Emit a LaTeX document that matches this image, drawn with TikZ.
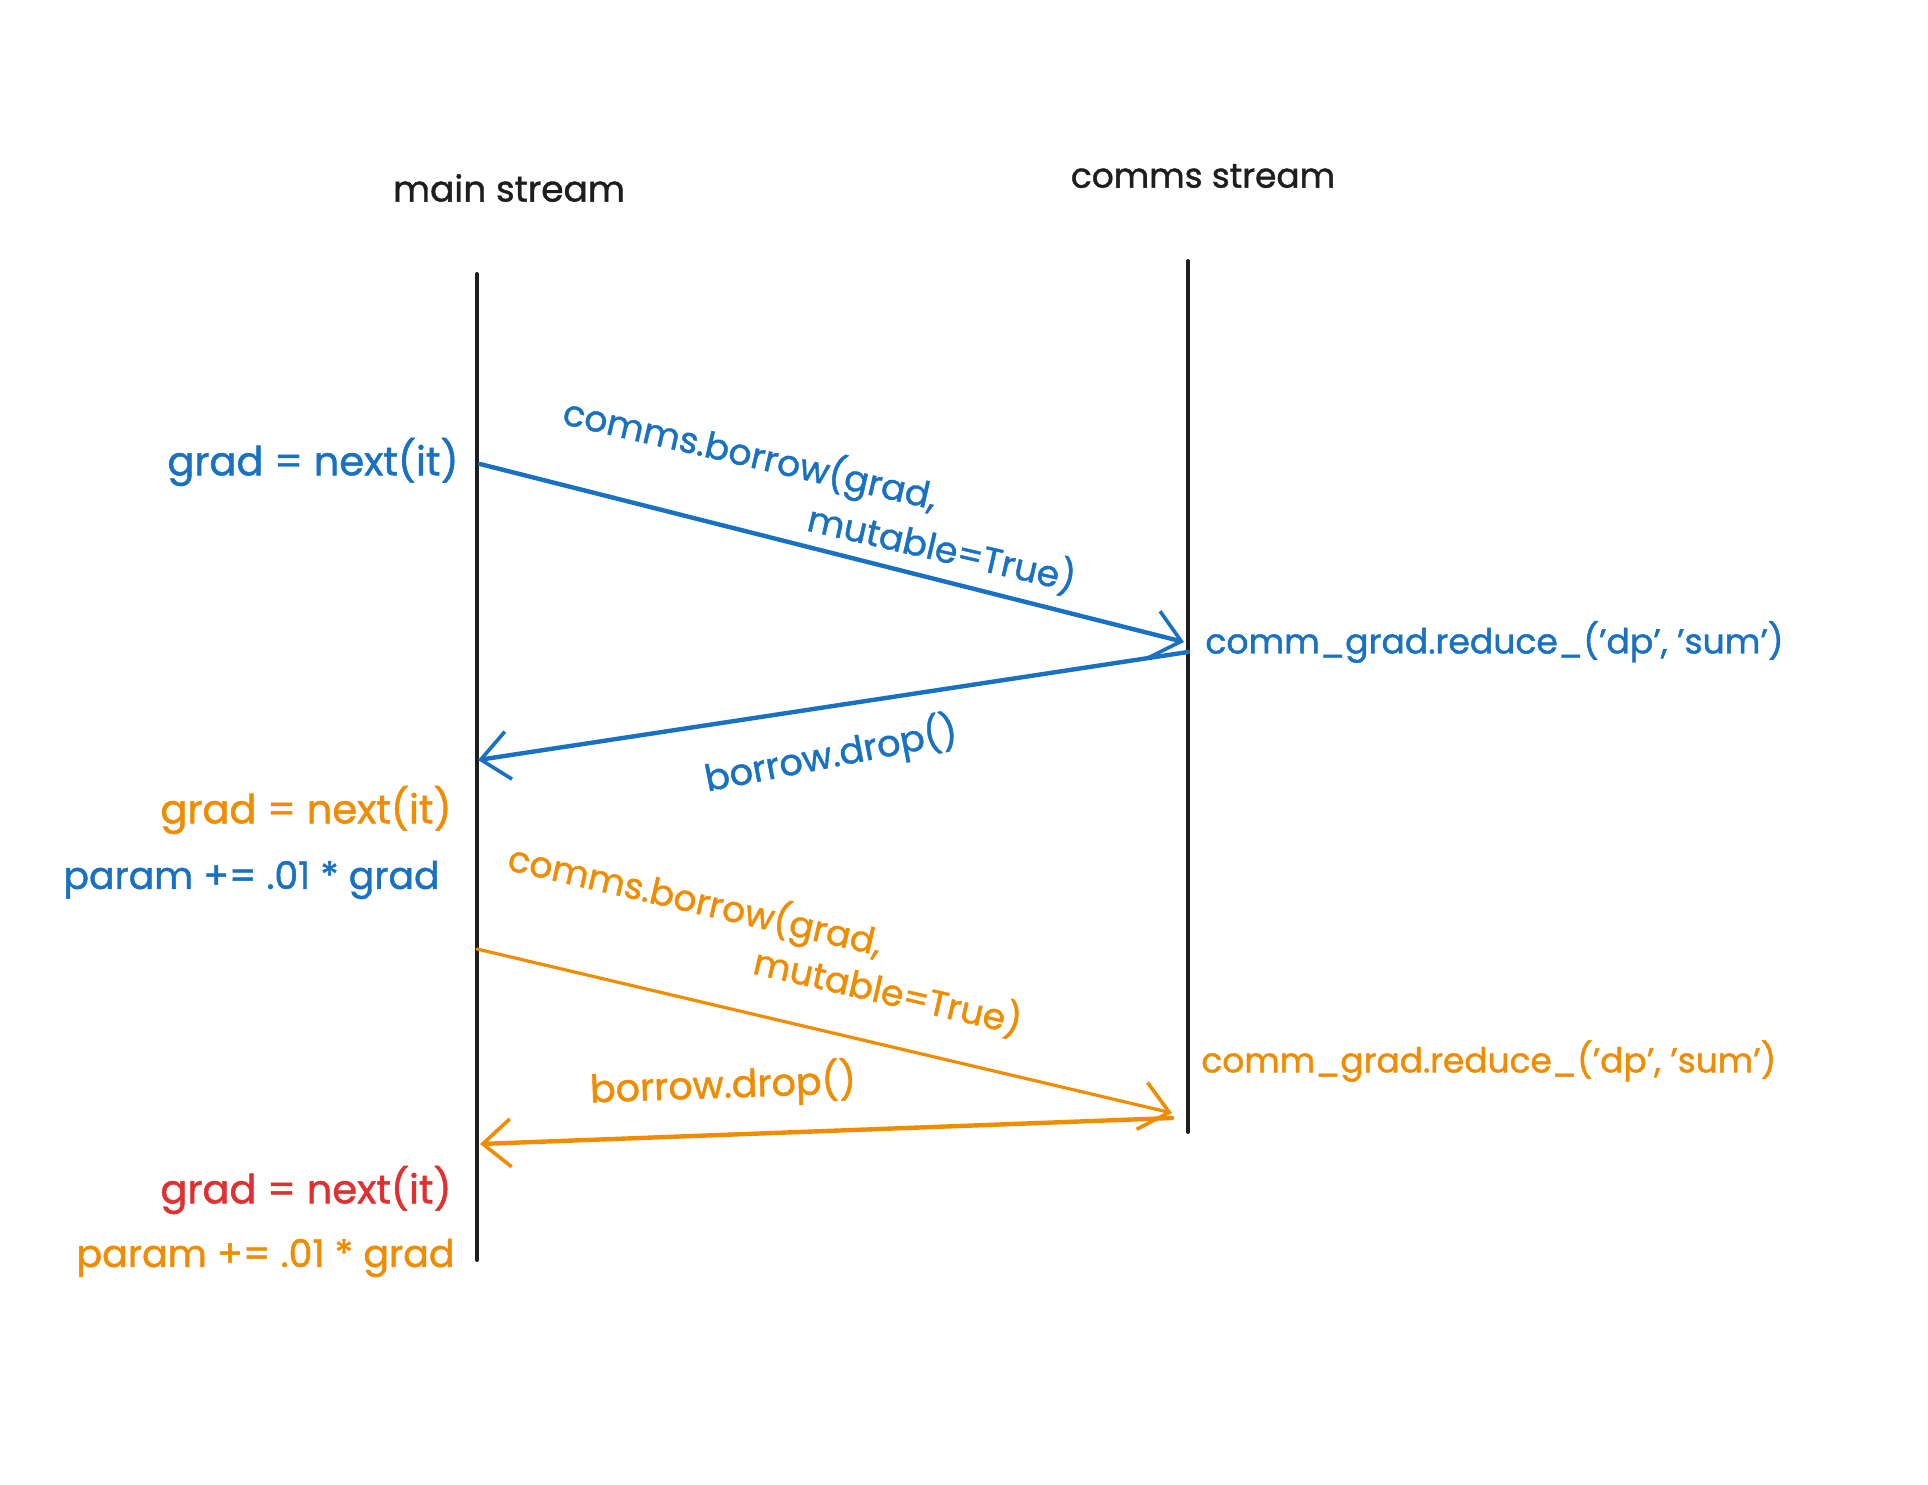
\documentclass[tikz,border=0pt]{standalone}
\usepackage{fontspec}
\setmainfont{Poppins}[FakeBold=1.2]
\usetikzlibrary{arrows.meta}
\definecolor{exblue}{HTML}{1971C2}
\definecolor{exorange}{HTML}{F08C00}
\definecolor{exred}{HTML}{E03131}
\definecolor{exblack}{HTML}{1E1E1E}
\newcommand{\fsz}[1]{\fontsize{#1}{#1}\selectfont}
\begin{document}
\begin{tikzpicture}[x=0.5pt,y=-0.5pt,
  lbl/.style={font=\fsz{18}, inner sep=0pt},
  life/.style={exblack, line width=2pt, line cap=round},
  msg/.style={line width=2.2pt, line cap=round, -{Straight Barb[length=14pt,width=24pt,line width=1.8pt]}},
  thinmsg/.style={msg, line width=1.6pt},
]
\useasboundingbox[fill=white] (0,0) rectangle (1928,1484);

% lifelines
\coordinate (Ltop) at (477,274); \coordinate (Lbot) at (477,1260);
\coordinate (Rtop) at (1188,261); \coordinate (Rbot) at (1188,1132);
\draw[life] (Ltop) -- (Lbot);
\draw[life] (Rtop) -- (Rbot);

% titles
\node[lbl, exblack] (tmain) at (509,188) {main stream};
\node[lbl, exblack, font=\fsz{17.2}] (tcomms) at (1203,176) {comms stream};

% message end points
\coordinate (a1s) at (480,464);  \coordinate (a1e) at (1184,642);
\coordinate (a2s) at (1188,652); \coordinate (a2e) at (478,760);
\coordinate (a3s) at (477,949);  \coordinate (a3e) at (1172,1113);
\coordinate (a4s) at (1172,1118); \coordinate (a4e) at (480,1144);

% blue cycle
\draw[msg, exblue] (a1s) -- (a1e);
\draw[msg, exblue] (a2s) -- (a2e);
\node[lbl, exblue, anchor=east, font=\fsz{20}] (g1) at (459,462) {grad = next(it)};
\node[lbl, exblue, rotate=-13] (c1a) at (750,455) {comms.borrow(grad,};
\node[lbl, exblue, rotate=-13] (c1b) at (942,548) {mutable=True)};
\node[lbl, exblue, anchor=west, font=\fsz{17.3}] (r1) at (1205,642) {comm\_grad.reduce\_('dp', 'sum')};
\node[lbl, exblue, rotate=11, font=\fsz{18.3}] (d1) at (831,755) {borrow.drop()};
\node[lbl, exorange, anchor=east, font=\fsz{20}] (g2) at (452,810) {grad = next(it)};
\node[lbl, exblue, anchor=east, font=\fsz{18.9}] (p1) at (440,880) {param += .01 * grad};

% orange cycle
\draw[thinmsg, exorange] (a3s) -- (a3e);
\draw[msg, exorange] (a4s) -- (a4e);
\node[lbl, exorange, rotate=-13] (c2a) at (695,901) {comms.borrow(grad,};
\node[lbl, exorange, rotate=-13] (c2b) at (888,991) {mutable=True)};
\node[lbl, exorange, anchor=west, font=\fsz{17.2}] (r2) at (1201,1061) {comm\_grad.reduce\_('dp', 'sum')};
\node[lbl, exorange, rotate=2, font=\fsz{19}] (d2) at (723,1085) {borrow.drop()};
\node[lbl, exred, anchor=east, font=\fsz{20}] (g3) at (452,1190) {grad = next(it)};
\node[lbl, exorange, anchor=east, font=\fsz{19}] (p2) at (455,1258) {param += .01 * grad};
\end{tikzpicture}
\end{document}
